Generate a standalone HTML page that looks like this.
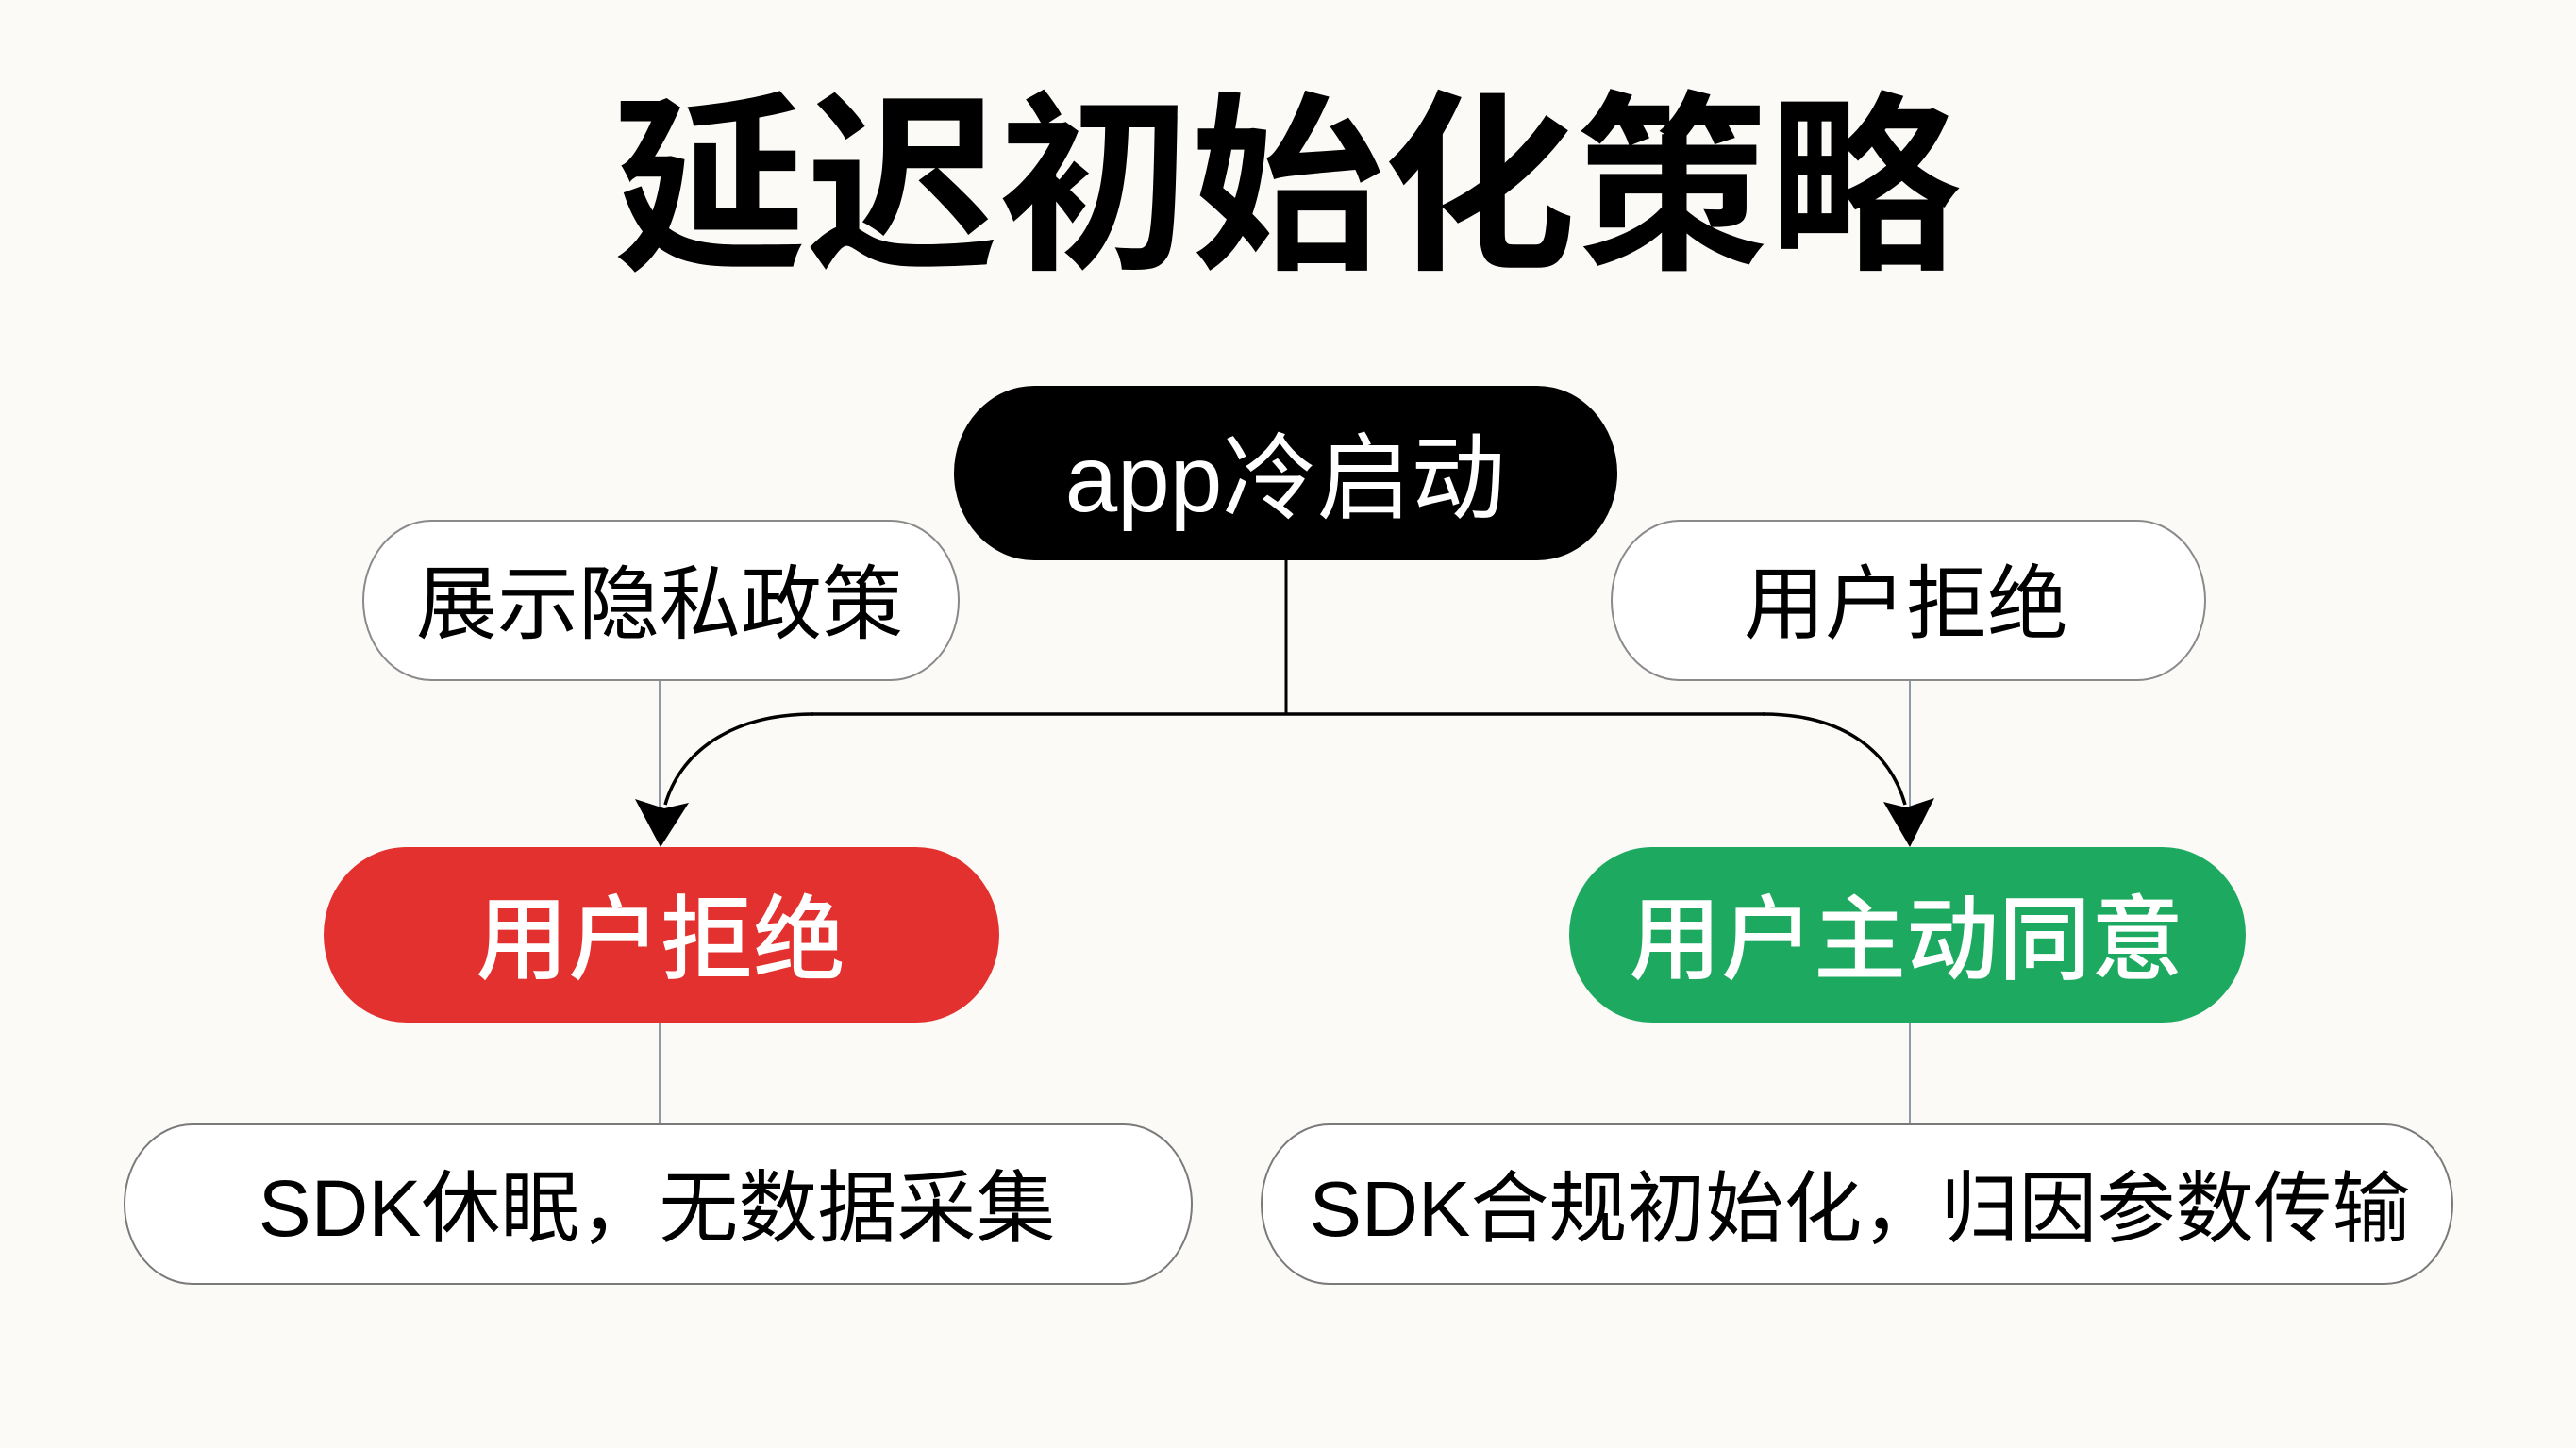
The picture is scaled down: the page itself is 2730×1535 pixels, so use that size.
<!DOCTYPE html>
<html>
<head>
<meta charset="utf-8">
<style>
  html, body { margin: 0; padding: 0; background: #fbfaf7; }
  body { width: 2730px; height: 1535px; overflow: hidden; }
  svg { display: block; }
  text { font-family: "Liberation Sans", "Noto Sans CJK SC", sans-serif; }
</style>
</head>
<body>
<svg width="2730" height="1535" viewBox="0 0 2730 1535" xmlns="http://www.w3.org/2000/svg">
  <rect x="0" y="0" width="2730" height="1535" fill="#fbfaf7"/>

  <!-- Title -->
  <text x="1364" y="269" text-anchor="middle" font-size="204" font-weight="700" fill="#000" style="font-family: 'Noto Sans CJK SC', sans-serif;">延迟初始化策略</text>

  <!-- gray connectors -->
  <line x1="699" y1="721" x2="699" y2="890" stroke="#8f9aa7" stroke-width="2"/>
  <line x1="2024" y1="721" x2="2024" y2="890" stroke="#8f9aa7" stroke-width="2"/>
  <line x1="699" y1="1084" x2="699" y2="1192" stroke="#8f9aa7" stroke-width="2"/>
  <line x1="2024" y1="1084" x2="2024" y2="1192" stroke="#8f9aa7" stroke-width="2"/>

  <!-- black connectors -->
  <line x1="1363" y1="592" x2="1363" y2="757" stroke="#000" stroke-width="3"/>
  <path d="M 860 757 L 1870 757" stroke="#000" stroke-width="3.5" fill="none"/>
  <path d="M 862 757 C 772 757, 720 800, 705 853" stroke="#000" stroke-width="3.5" fill="none"/>
  <path d="M 1868 757 C 1958 757, 2004 800, 2019 853" stroke="#000" stroke-width="3.5" fill="none"/>
  <!-- arrowheads -->
  <polygon points="700,898 673,847 704,857 730,851" fill="#000"/>
  <polygon points="2024,898 1996,850 2020,856 2050,846" fill="#000"/>

  <!-- black pill -->
  <rect x="1011" y="409" width="703" height="185" rx="85" ry="92.5" fill="#000"/>
  <text x="1362" y="542" text-anchor="middle" font-size="100" fill="#fff">app冷启动</text>

  <!-- white pills row 2 -->
  <rect x="385" y="552" width="631" height="169" rx="72" ry="84.5" fill="#fff" stroke="#8a8a8a" stroke-width="2"/>
  <text x="699" y="670" text-anchor="middle" font-size="86" fill="#000">展示隐私政策</text>

  <rect x="1708" y="552" width="629" height="169" rx="72" ry="84.5" fill="#fff" stroke="#8a8a8a" stroke-width="2"/>
  <text x="2020" y="670" text-anchor="middle" font-size="86" fill="#000">用户拒绝</text>

  <!-- red pill -->
  <rect x="343" y="898" width="716" height="186" rx="88" ry="93" fill="#e2312f"/>
  <text x="700" y="1030" text-anchor="middle" font-size="98" font-weight="500" fill="#fff">用户拒绝</text>

  <!-- green pill -->
  <rect x="1663" y="898" width="717" height="186" rx="88" ry="93" fill="#1daa60"/>
  <text x="2020" y="1030" text-anchor="middle" font-size="98" font-weight="500" fill="#fff">用户主动同意</text>

  <!-- bottom pills -->
  <rect x="132" y="1192" width="1131" height="169" rx="72" ry="84.5" fill="#fff" stroke="#7a7a7a" stroke-width="2"/>
  <text x="696" y="1310" text-anchor="middle" font-size="84" fill="#000">SDK休眠，无数据采集</text>

  <rect x="1337" y="1192" width="1262" height="169" rx="72" ry="84.5" fill="#fff" stroke="#7a7a7a" stroke-width="2"/>
  <text x="1971" y="1310" text-anchor="middle" font-size="83" fill="#000">SDK合规初始化，归因参数传输</text>
</svg>
</body>
</html>
